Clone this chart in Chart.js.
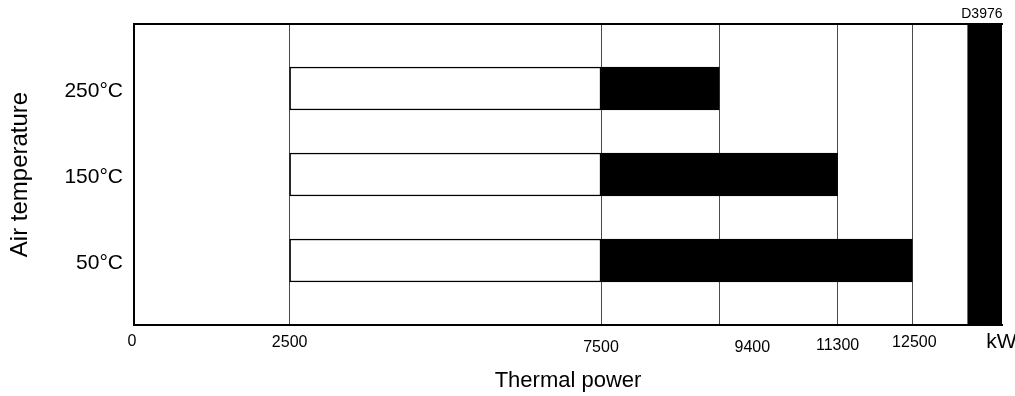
<!DOCTYPE html>
<html>
<head>
<meta charset="utf-8">
<script src="https://cdn.jsdelivr.net/npm/chart.js@4/dist/chart.umd.min.js"></script>
<style>
  html, body { margin: 0; padding: 0; background: #fff; }
  #wrap { width: 1015px; height: 396px; position: relative; }
</style>
</head>
<body>
<div id="wrap"><canvas id="c"></canvas></div>
<script>
// ---- data ----
const categories = ['250°C', '150°C', '50°C'];
const rangeStart = [2500, 2500, 2500];
const rangeSplit = [7500, 7500, 7500];
const rangeEnd = [9400, 11300, 12500];
const xTickValues = [0, 2500, 7500, 9400, 11300, 12500];
const xTickLabels = ['0', '2500', '7500', '9400', '11300', '12500'];
const markerBand = [13390, 13940];
const axisMax = 13940;
const unitLabel = 'kW';
const drawingCode = 'D3976';
const xTitle = 'Thermal power';
const yTitle = 'Air temperature';

const FONT = "'Liberation Sans', Arial, Helvetica, sans-serif";

const whiteData = categories.map((c, i) => ({ x: [rangeStart[i], rangeSplit[i]], y: i }));
const blackData = categories.map((c, i) => ({ x: [rangeSplit[i], rangeEnd[i]], y: i }));
const markerData = [{ x: markerBand, y: (categories.length - 1) / 2 }];

// label nudges (style only)
const labelNudge = {
  0: { dx: -2, base: 346 },
  2500: { dx: 0, base: 347 },
  7500: { dx: 0, base: 352 },
  9400: { dx: 33, base: 352 },
  11300: { dx: 0, base: 350 },
  12500: { dx: 2, base: 347 }
};

const textPlugin = {
  id: 'extraText',
  afterDraw(chart) {
    const ctx = chart.ctx;
    const xs = chart.scales.x;
    ctx.save();
    ctx.fillStyle = '#000';
    ctx.textAlign = 'center';
    ctx.textBaseline = 'alphabetic';
    ctx.font = '16px ' + FONT;
    xTickValues.forEach((v, i) => {
      const n = labelNudge[v] || { dx: 0, base: 347 };
      ctx.fillText(xTickLabels[i], xs.getPixelForValue(v) + n.dx, n.base);
    });
    ctx.font = '21px ' + FONT;
    ctx.fillText(unitLabel, xs.right - 0.5, 348);
    ctx.font = '14px ' + FONT;
    ctx.textAlign = 'right';
    ctx.fillText(drawingCode, xs.right + 0.5, 18);
    ctx.restore();
  }
};

new Chart(document.getElementById('c'), {
  type: 'bar',
  data: {
    datasets: [
      {
        data: whiteData,
        backgroundColor: '#ffffff',
        borderColor: '#000000',
        borderWidth: 1.5,
        borderSkipped: false,
        barThickness: 43,
        grouped: false
      },
      {
        data: blackData,
        backgroundColor: '#000000',
        borderColor: '#000000',
        borderWidth: 1,
        borderSkipped: false,
        barThickness: 43,
        grouped: false
      },
      {
        data: markerData,
        backgroundColor: '#000000',
        borderWidth: 0,
        barThickness: 301,
        grouped: false
      }
    ]
  },
  options: {
    indexAxis: 'y',
    responsive: true,
    maintainAspectRatio: false,
    animation: false,
    layout: { padding: { top: 24, right: 13, left: 0, bottom: 0 } },
    plugins: {
      legend: { display: false },
      tooltip: { enabled: false }
    },
    scales: {
      x: {
        type: 'linear',
        position: 'bottom',
        min: 0,
        max: axisMax,
        offset: false,
        afterBuildTicks: (s) => { s.ticks = xTickValues.map(v => ({ value: v })); },
        afterFit: (s) => { s.height = 71; },
        ticks: { display: false },
        grid: {
          display: true,
          drawTicks: false,
          offset: false,
          color: (c) => (c.tick && c.tick.value === 0) ? 'rgba(0,0,0,0)' : '#4a4a4a',
          lineWidth: 1
        },
        border: { display: true, color: '#000000', width: 2 },
        title: {
          display: true,
          text: xTitle,
          color: '#000000',
          font: { family: FONT, size: 22 },
          padding: { top: 0, bottom: 2 }
        }
      },
      xTop: {
        type: 'linear',
        position: 'top',
        min: 0,
        max: 1,
        afterFit: (s) => { s.height = 0; },
        ticks: { display: false },
        grid: { display: false, drawTicks: false },
        border: { display: true, color: '#000000', width: 2 }
      },
      y: {
        type: 'linear',
        position: 'left',
        min: -0.75,
        max: 2.75,
        offset: false,
        reverse: true,
        afterBuildTicks: (s) => { s.ticks = categories.map((c, i) => ({ value: i })); },
        afterFit: (s) => { s.width = 134; },
        ticks: {
          callback: (v) => categories[v],
          color: '#000000',
          font: { family: FONT, size: 21 },
          padding: 11,
          labelOffset: 3
        },
        grid: { display: false, drawTicks: false, offset: false },
        border: { display: true, color: '#000000', width: 2 },
        title: {
          display: true,
          text: yTitle,
          color: '#000000',
          font: { family: FONT, size: 24 },
          padding: { top: 6, bottom: 0 }
        }
      }
    }
  },
  plugins: [textPlugin]
});
</script>
</body>
</html>
